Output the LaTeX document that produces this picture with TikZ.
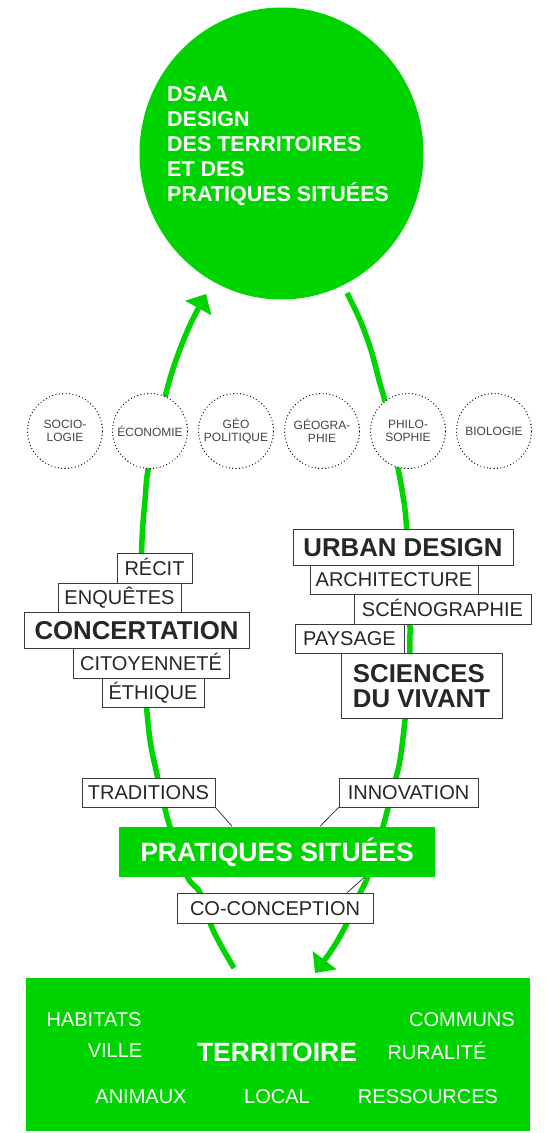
\documentclass[tikz,border=0pt]{standalone}
\usepackage{fontspec}
\setmainfont{Liberation Sans}
\usetikzlibrary{arrows.meta,calc,shapes.geometric}
\definecolor{vert}{RGB}{0,212,0}
\definecolor{labtext}{HTML}{262626}
\definecolor{boxline}{HTML}{3A3A3A}
\definecolor{disctext}{HTML}{444444}
\begin{document}
\begin{tikzpicture}[x=1pt,y=-1pt,
  boxbase/.style={draw=boxline, fill=white, line width=0.8pt, inner sep=0pt, text=labtext},
  lab/.style={boxbase, font=\fontsize{20}{22}\selectfont, text height=14.3pt, text depth=0pt},
  labbig/.style={boxbase, font=\bfseries\fontsize{25.8}{25}\selectfont, text height=18.5pt, text depth=0pt},
  disc/.style={circle, draw=black, fill=white, line width=1.3pt, dash pattern=on 0pt off 3.4pt, line cap=round,
    minimum size=75pt, inner sep=0pt, align=center, text=disctext, font=\fontsize{12}{13}\selectfont},
  loopline/.style={draw=vert, line width=5.5pt},
  tipend/.style={-{Triangle[length=16pt,width=29pt]}},
  thin/.style={draw=boxline, line width=0.8pt},
  terrword/.style={text=white, inner sep=0pt, font=\fontsize{20}{22}\selectfont, text height=14.3pt, text depth=0pt},
]
\useasboundingbox (0,0) rectangle (544,1133);

% coordinates of the loop ends
\coordinate (lstart) at (234,968);
\coordinate (ltip) at (206,294);
\coordinate (rstart) at (347,293);
\coordinate (rtip) at (315,973);

% green loop
\draw[loopline, tipend] plot[smooth, tension=0.6] coordinates {
  (lstart) (213,930) (200,893) (187,876) (170,827) (163,800) (156,770) (150,740)
  (146,700) (142,640) (141,600) (142,540) (145,500) (148,470) (157,430)
  (166,393) (176,360) (190,325) (ltip)};
\draw[loopline, tipend] plot[smooth, tension=0.6] coordinates {
  (rstart) (360,320) (371,350) (379,380) (386,405) (392,435) (398,468) (402,490)
  (406,520) (409,580) (410,630) (409,680) (405,720) (400,760) (394,785)
  (388,808) (382,830) (368,876) (359,895) (347,923) (333,948) (rtip)};

% big circle
\node[ellipse, fill=vert, minimum width=284, minimum height=292, inner sep=0pt] (dsaa) at (281.5,153.5) {};
\node[anchor=north west, align=left, inner sep=0pt, text=white,
      font=\bfseries\fontsize{21.5}{25}\selectfont] (dsaatext) at (167,86.5)
  {DSAA\\DESIGN\\DES TERRITOIRES\\ET DES\\PRATIQUES SITUÉES};

% dotted discipline circles
\node[disc] (c1) at (65,431) {SOCIO-\\LOGIE};
\node[disc] (c2) at (150,431) {ÉCONOMIE};
\node[disc] (c3) at (236,431) {GÉO\\POLITIQUE};
\node[disc] (c4) at (322,431) {GÉOGRA-\\PHIE};
\node[disc] (c5) at (408,431) {PHILO-\\SOPHIE};
\node[disc] (c6) at (494,431) {BIOLOGIE};

% left stack
\node[lab, minimum width=75, minimum height=30] (recit) at (154.5,568) {RÉCIT};
\node[lab, minimum width=123, minimum height=29] (enq) at (119.5,597.5) {ENQUÊTES};
\node[labbig, minimum width=225, minimum height=36] (conc) at (136.5,630) {CONCERTATION};
\node[lab, minimum width=156, minimum height=30] (cito) at (151,663) {CITOYENNETÉ};
\node[lab, minimum width=102, minimum height=29] (ethi) at (153,692.5) {ÉTHIQUE};

% right stack
\node[labbig, minimum width=220, minimum height=36] (urban) at (403,547) {URBAN DESIGN};
\node[lab, minimum width=168, minimum height=29] (archi) at (394,579.5) {ARCHITECTURE};
\node[lab, minimum width=177, minimum height=30] (sceno) at (442.5,609) {SCÉNOGRAPHIE};
\node[lab, minimum width=109, minimum height=29] (pays) at (349.5,638.5) {PAYSAGE};
\node[boxbase, font=\bfseries\fontsize{25.8}{25}\selectfont, align=left, minimum width=161, minimum height=65] (vivant) at (421.5,686) {SCIENCES\\DU VIVANT};

% bottom labels
\node[lab, minimum width=133, minimum height=29] (trad) at (148.5,792.5) {TRADITIONS};
\node[lab, minimum width=139, minimum height=29] (innov) at (408.5,792.5) {INNOVATION};
\node[fill=vert, minimum width=316, minimum height=50, inner sep=0pt, text=white,
      font=\bfseries\fontsize{26.5}{26}\selectfont, text height=19pt, text depth=0pt] (prat) at (277,851.5) {PRATIQUES SITUÉES};
\node[lab, minimum width=196, minimum height=30] (cocon) at (275,908) {CO-CONCEPTION};

\draw[thin] (trad.south east) -- ($(prat.north west)!0.358!(prat.north east)$);
\draw[thin] (innov.south west) -- ($(prat.north west)!0.636!(prat.north east)$);
\draw[thin] ($(prat.south west)!0.778!(prat.south east)$) -- ($(cocon.north west)!0.867!(cocon.north east)$);

% territoire
\node[fill=vert, minimum width=504, minimum height=153, inner sep=0pt] (terr) at (278,1054.5) {};
\node[terrword] (habitats) at (94,1019.5) {HABITATS};
\node[terrword] (communs) at (462,1019.5) {COMMUNS};
\node[terrword] (ville) at (115,1050.5) {VILLE};
\node[terrword, font=\bfseries\fontsize{26.5}{26}\selectfont, text height=19pt] (territoire) at (277,1052) {TERRITOIRE};
\node[terrword] (ruralite) at (437,1052) {RURALITÉ};
\node[terrword] (animaux) at (141,1096) {ANIMAUX};
\node[terrword] (local) at (277,1096) {LOCAL};
\node[terrword] (ressources) at (428,1096) {RESSOURCES};
\end{tikzpicture}
\end{document}
